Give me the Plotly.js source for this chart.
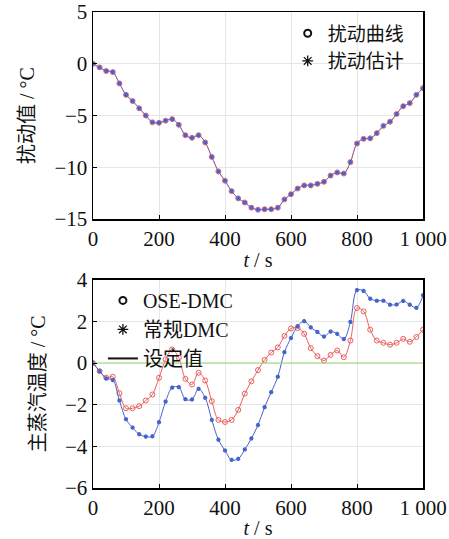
<!DOCTYPE html>
<html>
<head>
<meta charset="utf-8">
<script src="https://cdn.plot.ly/plotly-3.0.1.min.js"></script>
<style>html,body{margin:0;padding:0;background:#fff;}#chart{width:449px;height:539px;}</style>
</head>
<body>
<div id="chart"></div>
<script>
// ---- data ----
var time = [0,20,40,60,80,100,120,140,160,180,200,220,240,260,280,300,320,340,360,380,400,420,440,460,480,500,520,540,560,580,600,620,640,660,680,700,720,740,760,780,800,820,840,860,880,900,920,940,960,980,1000];
var disturbance = [0,-0.35,-0.7,-0.8,-1.9,-3.0,-3.6,-4.3,-5.0,-5.65,-5.7,-5.5,-5.35,-5.9,-6.9,-7.15,-6.9,-7.6,-9.0,-10.4,-11.3,-12.3,-13.0,-13.4,-13.9,-14.1,-14.05,-14.05,-13.9,-13.1,-12.6,-12.05,-11.75,-11.75,-11.6,-11.4,-10.8,-10.5,-10.6,-9.5,-7.7,-7.25,-7.2,-6.7,-6.0,-5.6,-4.85,-4.1,-3.8,-3.0,-2.35];
var estimate = [0,-0.35,-0.7,-0.8,-1.9,-3.0,-3.6,-4.3,-5.0,-5.65,-5.7,-5.5,-5.35,-5.9,-6.9,-7.15,-6.9,-7.6,-9.0,-10.4,-11.3,-12.3,-13.0,-13.4,-13.9,-14.1,-14.05,-14.05,-13.9,-13.1,-12.6,-12.05,-11.75,-11.75,-11.6,-11.4,-10.8,-10.5,-10.6,-9.5,-7.7,-7.25,-7.2,-6.7,-6.0,-5.6,-4.85,-4.1,-3.8,-3.0,-2.35];
var oseDMC = [0,-0.39,-0.7,-0.66,-1.45,-2.17,-2.17,-2.07,-1.8,-1.51,-0.71,0.17,0.65,0.25,-0.76,-1.03,-0.47,-0.84,-1.83,-2.73,-2.83,-2.73,-2.25,-1.47,-0.88,-0.34,0.15,0.5,0.75,1.3,1.66,1.68,1.4,0.71,0.33,0.12,0.39,0.6,0.28,1.08,2.64,2.48,1.6,1.08,0.97,0.88,0.97,1.16,1.02,1.25,1.6];
var normalDMC = [0,-0.39,-0.74,-0.82,-1.8,-2.7,-3.1,-3.42,-3.53,-3.52,-2.84,-1.85,-1.18,-1.16,-1.74,-1.75,-1.24,-1.67,-2.73,-3.68,-4.2,-4.65,-4.6,-4.15,-3.62,-2.98,-2.12,-1.4,-0.66,0.52,1.2,1.77,2.01,1.71,1.49,1.27,1.51,1.4,1.15,1.97,3.5,3.46,3.09,2.99,2.99,2.8,2.81,2.98,2.8,2.65,3.25];
var setTime = [0,1000];
var setpoint = [0,0];
var xTickVals = [0,200,400,600,800,1000];
var xTickText = ['0','200','400','600','800','1 000'];
var y1TickVals = [5,0,-5,-10,-15];
var y1TickText = ['5','0','−5','−10','−15'];
var y2TickVals = [4,2,0,-2,-4,-6];
var y2TickText = ['4','2','0','−2','−4','−6'];

var RED = '#e8605f', BLUE = '#4763cc', GREEN = '#98d977';
var FONT = 'Liberation Serif, Times New Roman, Noto Sans CJK SC, serif';

var traces = [
  {x: time, y: disturbance, xaxis:'x', yaxis:'y', mode:'lines+markers', line:{color:RED, width:1, shape:'spline'},
   marker:{symbol:'circle-open', size:5, color:RED, line:{width:1}}, showlegend:false},
  {x: time, y: estimate, xaxis:'x', yaxis:'y', mode:'lines+markers', line:{color:'rgba(80,90,210,0.6)', width:1, shape:'spline'},
   marker:{symbol:'asterisk-open', size:3.5, color:BLUE, line:{width:1.4, color:BLUE}}, showlegend:false},
  {x: time, y: oseDMC, xaxis:'x2', yaxis:'y2', mode:'lines+markers', line:{color:RED, width:1, shape:'spline'},
   marker:{symbol:'circle-open', size:5, color:RED, line:{width:1}}, showlegend:false},
  {x: time, y: normalDMC, xaxis:'x2', yaxis:'y2', mode:'lines+markers', line:{color:BLUE, width:1, shape:'spline'},
   marker:{symbol:'asterisk-open', size:3.5, color:BLUE, line:{width:1.4, color:BLUE}}, showlegend:false},
  {x: setTime, y: setpoint, xaxis:'x2', yaxis:'y2', mode:'lines', line:{color:GREEN, width:1.2}, showlegend:false},
  // legend entries (black symbols as in the reference)
  {x:[null], y:[null], xaxis:'x', yaxis:'y', mode:'markers', name:'扰动曲线', legend:'legend',
   marker:{symbol:'circle-open', size:7, color:'#111', line:{width:2}}},
  {x:[null], y:[null], xaxis:'x', yaxis:'y', mode:'markers', name:'扰动估计', legend:'legend',
   marker:{symbol:'asterisk-open', size:9, color:'#111', line:{width:1.3, color:'#111'}}},
  {x:[null], y:[null], xaxis:'x2', yaxis:'y2', mode:'markers', name:'OSE-DMC', legend:'legend2',
   marker:{symbol:'circle-open', size:7, color:'#111', line:{width:2}}},
  {x:[null], y:[null], xaxis:'x2', yaxis:'y2', mode:'markers', name:'常规DMC', legend:'legend2',
   marker:{symbol:'asterisk-open', size:9, color:'#111', line:{width:1.3, color:'#111'}}},
  {x:[null], y:[null], xaxis:'x2', yaxis:'y2', mode:'lines', name:'设定值', legend:'legend2',
   line:{color:'#111', width:2}}
];

function xax(anchor){
  return {domain:[0,1], anchor:anchor, range:[0,1000], tickvals:xTickVals, ticktext:xTickText,
    showline:true, mirror:true, linecolor:'#000', linewidth:1.5, ticks:'inside', ticklen:4, tickcolor:'#000',
    showgrid:true, gridcolor:'#e6e6e6', gridwidth:1, zeroline:false,
    tickfont:{family:FONT, size:21, color:'#111'},
    title:{text:'<i>t</i> / s', font:{family:FONT, size:20, color:'#111'}, standoff:3}};
}
function yax(anchor, dom, rng, tv, tt, title){
  return {domain:dom, anchor:anchor, range:rng, tickvals:tv, ticktext:tt,
    showline:true, mirror:true, linecolor:'#000', linewidth:1.5, ticks:'inside', ticklen:4, tickcolor:'#000',
    showgrid:true, gridcolor:'#e6e6e6', gridwidth:1, zeroline:false,
    tickfont:{family:FONT, size:21, color:'#111'},
    title:{text:title, font:{family:FONT, size:20, color:'#111'}, standoff:14}};
}

var layout = {
  width:449, height:539,
  margin:{l:93, r:26, t:12, b:51},
  paper_bgcolor:'#fff', plot_bgcolor:'#fff',
  font:{family:FONT, color:'#111'},
  xaxis: xax('y'),
  yaxis: yax('x', [0.565,1], [-15,5], y1TickVals, y1TickText, '扰动值 / °C'),
  xaxis2: xax('y2'),
  yaxis2: yax('x2', [0,0.4376], [-6,4], y2TickVals, y2TickText, '主蒸汽温度 / °C'),
  legend:{x:0.59, y:0.995, xanchor:'left', yanchor:'top', bgcolor:'rgba(0,0,0,0)', borderwidth:0,
    font:{family:FONT, size:19, color:'#111'}, itemwidth:30, tracegroupgap:0},
  legend2:{x:0.03, y:0.435, xanchor:'left', yanchor:'top', bgcolor:'rgba(0,0,0,0)', borderwidth:0,
    font:{family:FONT, size:20, color:'#111'}, itemwidth:30, tracegroupgap:0},
  showlegend:true
};

Plotly.newPlot('chart', traces, layout, {displayModeBar:false, staticPlot:true});
</script>
</body>
</html>
